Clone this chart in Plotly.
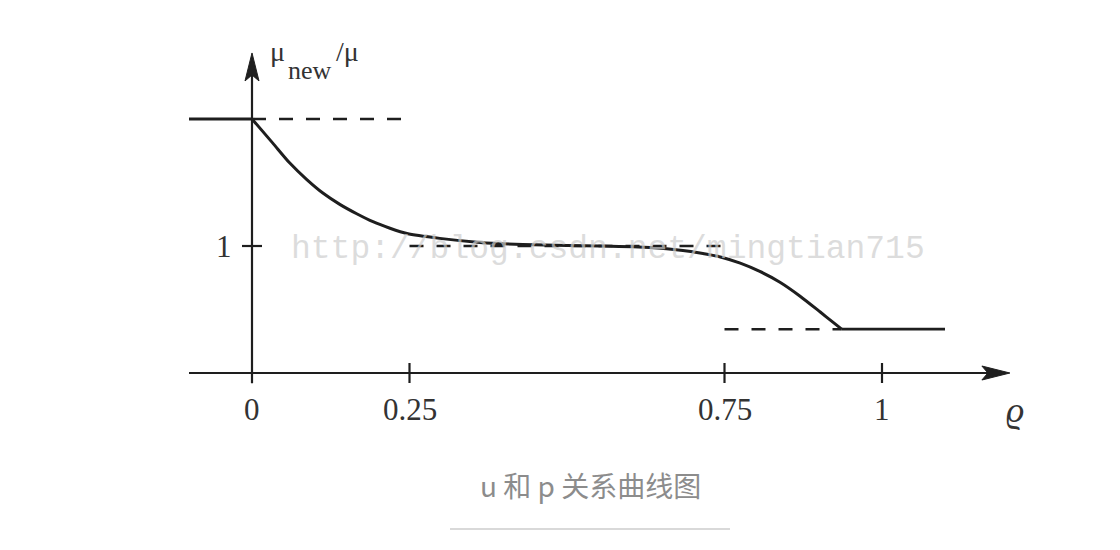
import plotly.graph_objects as go

# ---- data ----
rho_curve = [0, 0.033, 0.060, 0.087, 0.113, 0.140, 0.167, 0.192, 0.219, 0.246,
             0.298, 0.362, 0.430, 0.500, 0.552, 0.632, 0.684, 0.711, 0.745,
             0.775, 0.806, 0.838, 0.870, 0.902, 0.922, 0.936]
mu_curve = [2.0, 1.81, 1.653, 1.523, 1.415, 1.326, 1.252, 1.191, 1.140, 1.098,
            1.060, 1.028, 1.012, 1.004, 1.0, 0.988, 0.965, 0.945, 0.912,
            0.865, 0.800, 0.715, 0.605, 0.48, 0.40, 0.345]

mu_high = 2.0
mu_mid = 1.0
mu_low = 0.345
rho_left = -0.1
rho_right = 1.1
rho_break = 0.936

x_ticks = [0, 0.25, 0.75, 1]
x_tick_labels = ["0", "0.25", "0.75", "1"]
y_ticks = [1]
y_tick_labels = ["1"]

x_axis_end = 1.203
y_axis_end = 2.52
y_axis_start = -0.08

caption = "u 和 p 关系曲线图"
watermark = "http://blog.csdn.net/mingtian715"

INK = "#1e1e1e"
TXT = "#333333"
SERIF = "Liberation Serif, Times New Roman, serif"
DASH = "14px,13px"
PX_X = 630.0   # pixels per x unit
PX_Y = 127.0   # pixels per y unit

fig = go.Figure()

def seg(xs, ys, dash="solid", width=2.6):
    fig.add_trace(go.Scatter(x=xs, y=ys, mode="lines", hoverinfo="skip",
                             line=dict(color=INK, width=width, dash=dash)))

# axes lines
seg([rho_left, x_axis_end - 20 / PX_X], [0, 0], width=2.2)
seg([0, 0], [y_axis_start, y_axis_end - 20 / PX_Y], width=2.2)

# arrowheads (filled, narrow, slightly notched)
L, W, N = 28.0, 7.0, 22.0
fig.add_trace(go.Scatter(
    x=[x_axis_end, x_axis_end - L / PX_X, x_axis_end - N / PX_X, x_axis_end - L / PX_X, x_axis_end],
    y=[0, W / PX_Y, 0, -W / PX_Y, 0],
    mode="lines", fill="toself", fillcolor=INK, line=dict(color=INK, width=1),
    hoverinfo="skip"))
fig.add_trace(go.Scatter(
    x=[0, W / PX_X, 0, -W / PX_X, 0],
    y=[y_axis_end, y_axis_end - L / PX_Y, y_axis_end - N / PX_Y, y_axis_end - L / PX_Y, y_axis_end],
    mode="lines", fill="toself", fillcolor=INK, line=dict(color=INK, width=1),
    hoverinfo="skip"))

# horizontal levels
seg([rho_left, 0], [mu_high, mu_high], width=2.8)
seg([0, 0.25], [mu_high, mu_high], dash=DASH, width=2.6)
seg([0.25, 0.75], [mu_mid, mu_mid], dash=DASH, width=2.6)
seg([0.75, rho_break], [mu_low, mu_low], dash=DASH, width=2.6)
seg([rho_break, rho_right], [mu_low, mu_low], width=2.8)

# curve
fig.add_trace(go.Scatter(x=rho_curve, y=mu_curve, mode="lines", hoverinfo="skip",
                         line=dict(color=INK, width=3, shape="spline", smoothing=0.7)))

# ticks
for t in x_ticks[1:]:
    seg([t, t], [-10 / PX_Y, 10 / PX_Y], width=2.2)
for t in y_ticks:
    seg([-10 / PX_X, 10 / PX_X], [t, t], width=2.2)

annotations = []
for t, lab in zip(x_ticks, x_tick_labels):
    annotations.append(dict(x=t, y=-0.29, xref="x", yref="y", text=lab, showarrow=False,
                            font=dict(family=SERIF, size=31, color=TXT)))
for t, lab in zip(y_ticks, y_tick_labels):
    annotations.append(dict(x=-0.045, y=t, xref="x", yref="y", text=lab, showarrow=False,
                            font=dict(family=SERIF, size=31, color=TXT)))

# axis titles
annotations.append(dict(x=1.211, y=-0.291, xref="x", yref="y", text="<i>ϱ</i>",
                        showarrow=False, font=dict(family=SERIF, size=36, color=TXT)))
annotations.append(dict(x=0.0397, y=2.528, xref="x", yref="y", text="μ",
                        showarrow=False, font=dict(family=SERIF, size=28, color=TXT)))
annotations.append(dict(x=0.092, y=2.378, xref="x", yref="y", text="new",
                        showarrow=False, font=dict(family=SERIF, size=26, color=TXT)))
annotations.append(dict(x=0.151, y=2.535, xref="x", yref="y", text="/μ",
                        showarrow=False, font=dict(family=SERIF, size=28, color=TXT)))

# watermark
annotations.append(dict(x=0.0595, y=0.97, xref="x", yref="y", text=watermark,
                        xanchor="left", yanchor="middle", showarrow=False,
                        font=dict(family="Liberation Mono, monospace", size=33,
                                  color="rgba(205,205,205,0.7)")))

# caption
annotations.append(dict(x=0.5268, y=1 - 485 / 550, xref="paper", yref="paper", text=caption,
                        xanchor="center", yanchor="middle", showarrow=False,
                        font=dict(family="Noto Sans CJK SC, sans-serif", size=28,
                                  color="#8c8c8c")))

fig.update_layout(
    width=1120, height=550, autosize=False,
    margin=dict(l=0, r=0, t=0, b=0),
    paper_bgcolor="white", plot_bgcolor="white",
    showlegend=False,
    xaxis=dict(range=[-252 / PX_X, (1120 - 252) / PX_X], visible=False, fixedrange=True),
    yaxis=dict(range=[-(550 - 373) / PX_Y, 373 / PX_Y], visible=False, fixedrange=True),
    annotations=annotations,
    shapes=[dict(type="line", xref="paper", yref="paper", x0=450 / 1120, x1=730 / 1120,
                 y0=1 - 529 / 550, y1=1 - 529 / 550, line=dict(color="#d9d9d9", width=2))],
)

fig.write_html("out.html", config={"displayModeBar": False})
